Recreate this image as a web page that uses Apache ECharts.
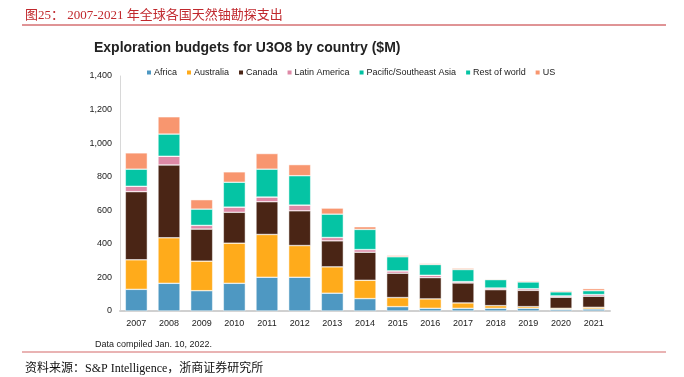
<!DOCTYPE html>
<html>
<head>
<meta charset="utf-8">
<script src="https://cdn.jsdelivr.net/npm/echarts@6/dist/echarts.min.js"></script>
<style>
  html, body { margin: 0; padding: 0; background: #fff; }
  #chart { width: 684px; height: 377px; }
</style>
</head>
<body>
<div id="chart"></div>
<script>
// 2007-2021 全球铀勘探支出 ($M)
const years = ['2007','2008','2009','2010','2011','2012','2013','2014','2015','2016','2017','2018','2019','2020','2021'];
const africa    = [129, 165, 121, 165, 201, 201, 106, 74, 26, 16, 16, 16, 16, 10, 12];
const australia = [176, 271, 176, 239, 255, 189, 157, 109, 54, 56, 32, 16, 10, 6, 10];
const canada    = [406, 434, 191, 184, 195, 207, 155, 167, 145, 127, 119, 95, 97, 66, 66];
const latinAm   = [32, 52, 22, 31, 28, 34, 20, 16, 14, 14, 8, 10, 10, 8, 10];
const pacific   = [0, 0, 0, 0, 0, 0, 0, 0, 0, 0, 0, 0, 0, 0, 0];
const restWorld = [102, 132, 97, 148, 166, 175, 139, 120, 84, 64, 72, 50, 40, 24, 23];
const us        = [97, 103, 56, 62, 93, 66, 36, 16, 8, 6, 8, 4, 6, 7, 12];

const myChart = echarts.init(document.getElementById('chart'));

function bar(name, data, color) {
  return {
    name: name,
    type: 'bar',
    stack: 'total',
    barWidth: 22,
    itemStyle: { color: color, borderColor: '#fff', borderWidth: 0.5 },
    data: data
  };
}

myChart.setOption({
  animation: false,
  title: [
    {
      text: '图25： 2007-2021 年全球各国天然铀勘探支出',
      left: 20, top: 4,
      textStyle: { color: '#c0282d', fontSize: 13, fontWeight: 'normal', fontFamily: 'Liberation Serif, Noto Sans CJK SC' }
    },
    {
      text: 'Exploration budgets for U3O8 by country ($M)',
      left: 89, top: 36,
      textStyle: { color: '#222', fontSize: 14, fontWeight: 'bold', fontFamily: 'Liberation Sans Narrow, Arial' }
    },
    {
      text: 'Data compiled Jan. 10, 2022.',
      left: 90, top: 335,
      textStyle: { color: '#222', fontSize: 9, fontWeight: 'normal', fontFamily: 'Arial, Liberation Sans' }
    },
    {
      text: '资料来源：S&P Intelligence，浙商证券研究所',
      left: 20, top: 358,
      textStyle: { color: '#111', fontSize: 12, fontWeight: 'normal', fontFamily: 'Liberation Serif, Noto Sans CJK SC' }
    }
  ],
  graphic: [
    { type: 'line', shape: { x1: 22, y1: 25, x2: 666, y2: 25 }, style: { stroke: '#c0282d', lineWidth: 1 } },
    { type: 'line', shape: { x1: 22, y1: 352, x2: 666, y2: 352 }, style: { stroke: '#e29a9a', lineWidth: 1.5 } }
  ],
  legend: {
    left: 140, top: 63,
    itemWidth: 6, itemHeight: 6, itemGap: 8,
    icon: 'rect',
    textStyle: { fontSize: 9, color: '#222', padding: [0, 0, 0, -3] },
    data: ['Africa', 'Australia', 'Canada', 'Latin America', 'Pacific/Southeast Asia', 'Rest of world', 'US']
  },
  grid: { left: 120, right: 74, top: 76, bottom: 66 },
  xAxis: {
    type: 'category',
    data: years,
    axisLine: { lineStyle: { color: '#d0d0d0', width: 2 } },
    axisTick: { show: false },
    axisLabel: { color: '#222', fontSize: 9, margin: 8 }
  },
  yAxis: {
    type: 'value',
    min: 0, max: 1400, interval: 200,
    splitLine: { show: false },
    axisLine: { show: true, lineStyle: { color: '#d8d8d8' } },
    axisTick: { show: false },
    axisLabel: {
      color: '#222', fontSize: 9, margin: 8,
      formatter: v => v.toLocaleString('en-US')
    }
  },
  series: [
    bar('Africa', africa, '#4e98c2'),
    bar('Australia', australia, '#ffab1b'),
    bar('Canada', canada, '#4a2515'),
    bar('Latin America', latinAm, '#de89a6'),
    bar('Pacific/Southeast Asia', pacific, '#00c2a2'),
    bar('Rest of world', restWorld, '#05c4a4'),
    bar('US', us, '#f8966f')
  ]
});
</script>
</body>
</html>
